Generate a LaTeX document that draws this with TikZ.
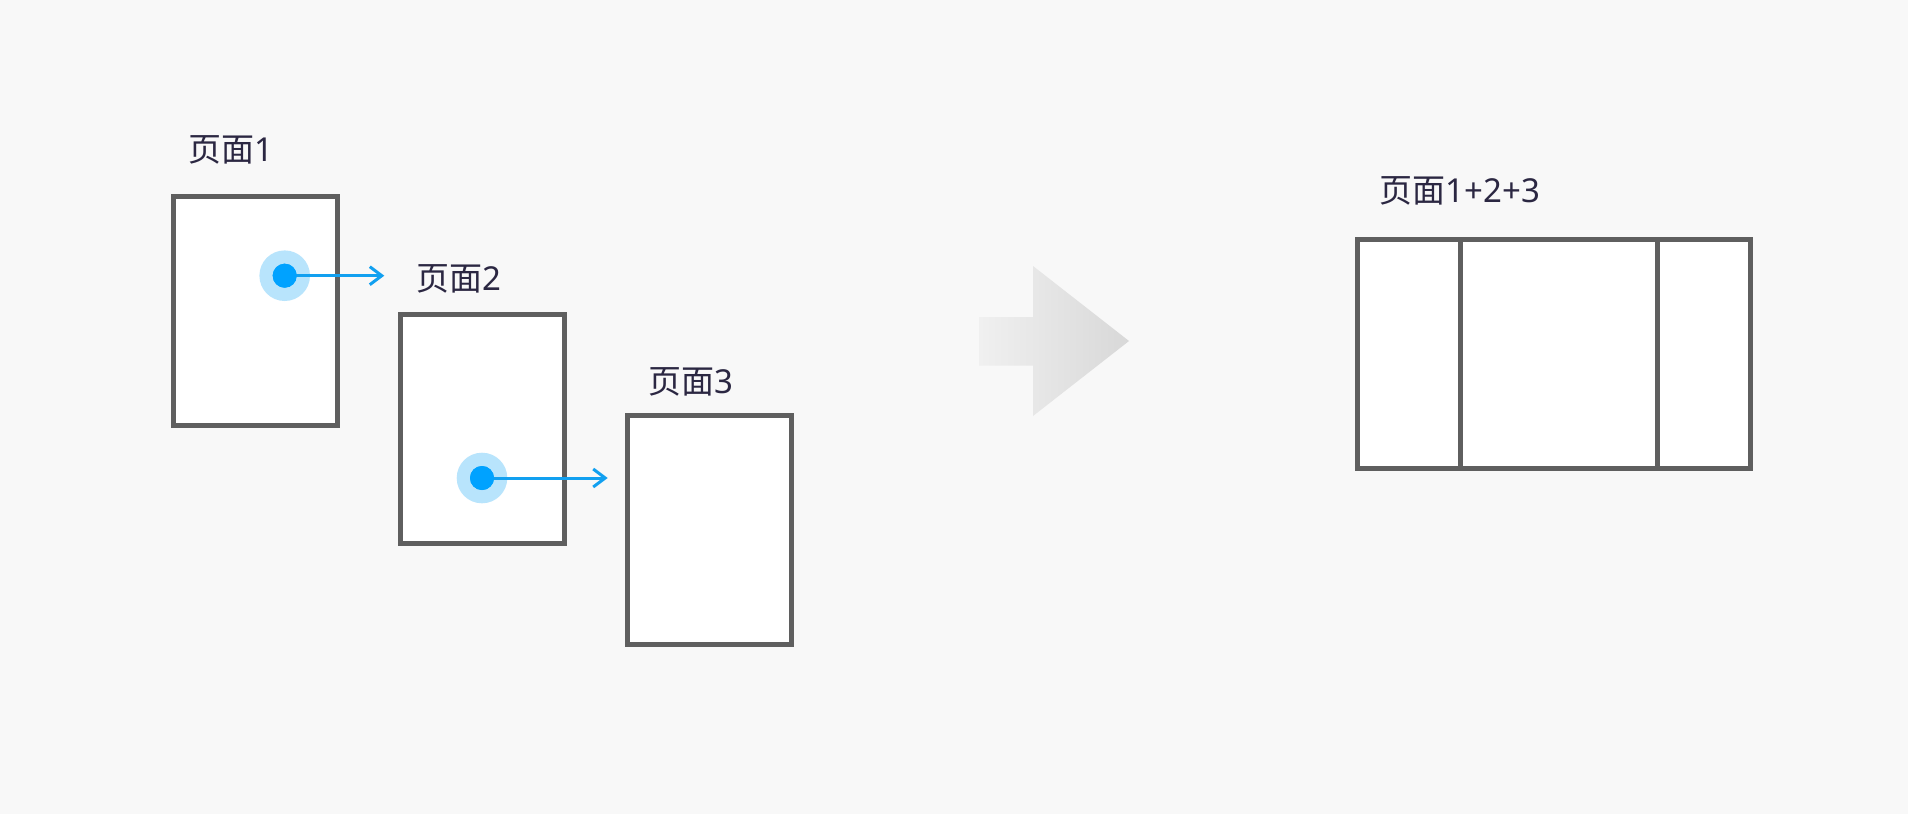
\documentclass[tikz,border=0pt]{standalone}
\usepackage{fontspec}
\setmainfont{Noto Sans CJK SC}
\newfontfamily\latfont{Noto Sans}
\usetikzlibrary{arrows.meta}
\definecolor{bg}{HTML}{F8F8F8}
\definecolor{frame}{HTML}{5F5F5F}
\definecolor{txt}{HTML}{2B2742}
\definecolor{dotblue}{HTML}{00A2FF}
\definecolor{halo}{HTML}{B8E4FC}
\definecolor{linkblue}{HTML}{12A0F0}
\definecolor{gradL}{HTML}{F0F0F0}
\definecolor{gradR}{HTML}{D8D8D8}
\tikzset{
  page/.style={draw=frame, fill=white, line width=4.7pt, rectangle, inner sep=0pt,
    minimum width=164pt, minimum height=229pt},
  lbl/.style={anchor=base west, inner sep=0pt, text=txt, font=\fontsize{33pt}{36pt}\selectfont},
  halodot/.style={circle, fill=halo, minimum size=50.6pt, inner sep=0pt},
  bluedot/.style={circle, fill=dotblue, minimum size=24pt, inner sep=0pt},
  link/.style={draw=linkblue, line width=3pt, -{Straight Barb[length=12pt,width=18pt,line width=3pt]}},
  divider/.style={draw=frame, line width=4.7pt}
}
\begin{document}
\begin{tikzpicture}[x=1pt,y=-1pt]
\fill[bg] (0,0) rectangle (1908,814);
\useasboundingbox (0,0) rectangle (1908,814);

% pages
\node[page] (p1) at (255.4,311.2) {};
\node[page] (p2) at (482.4,428.9) {};
\node[page] (p3) at (709.5,530.0) {};

% labels
\node[lbl] (l1) at (188,161) {页面{\latfont 1}};
\node[lbl] (l2) at (416.5,290) {页面{\latfont 2}};
\node[lbl] (l3) at (648,393.5) {页面{\latfont 3}};

% markers and links
\node[halodot] (h1) at (284.7,275.7) {};
\node[bluedot] (d1) at (284.7,275.7) {};
\coordinate (e1) at (384.3,275.7);
\draw[link] (d1.center) -- (e1);
\node[bluedot] at (284.7,275.7) {};

\node[halodot] (h2) at (482,478) {};
\node[bluedot] (d2) at (482,478) {};
\coordinate (e2) at (607.7,478);
\draw[link] (d2.center) -- (e2);
\node[bluedot] at (482,478) {};

% big gradient arrow
\shade[left color=gradL, right color=gradR]
  (979,317) -- (1033,317) -- (1033,266) -- (1129,341) -- (1033,416) -- (1033,365.7) -- (979,365.7) -- cycle;

% combined page
\node[lbl] (l4) at (1379.5,202.7) {页面{\latfont 1+2+3}};
\node[page, minimum width=393pt, minimum height=228.7pt] (pc) at (1553.9,354) {};
\coordinate (a1) at (1460.3,0);
\coordinate (a2) at (1657.3,0);
\draw[divider] (pc.north west -| a1) -- (pc.south west -| a1);
\draw[divider] (pc.north west -| a2) -- (pc.south west -| a2);
\end{tikzpicture}
\end{document}
